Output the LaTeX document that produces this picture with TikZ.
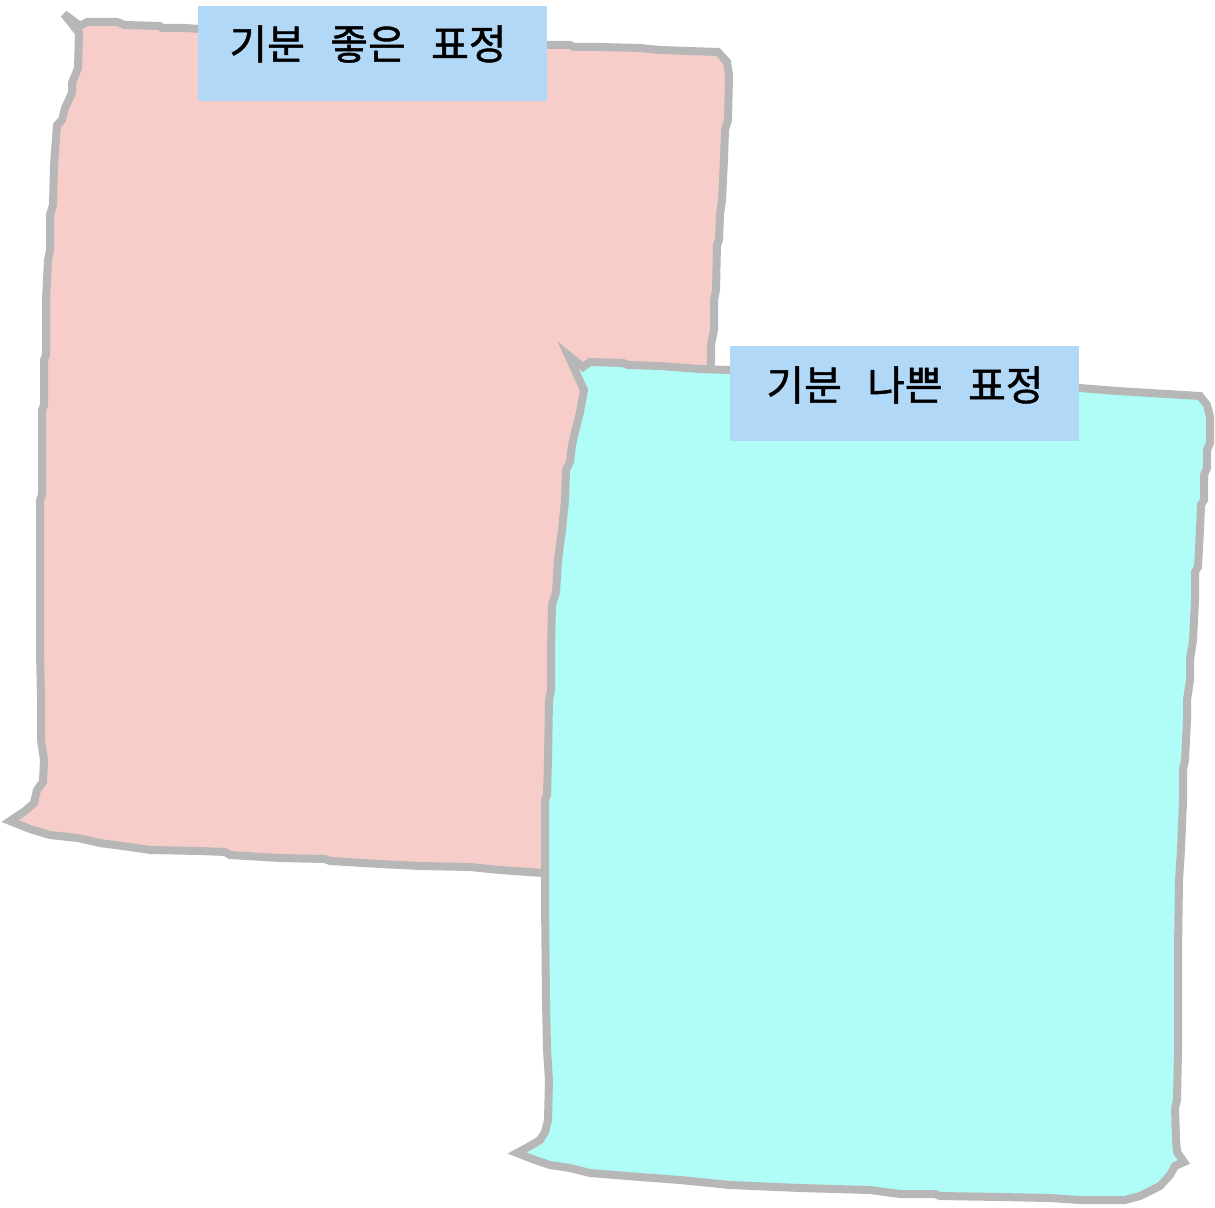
\documentclass[tikz,border=0pt]{standalone}
\usepackage{fontspec}
\newfontfamily\krfont[FakeBold=1.2]{Noto Sans CJK KR}
\definecolor{pinkfill}{HTML}{F7CDCA}
\definecolor{cyanfill}{HTML}{B0FCF6}
\definecolor{edgegray}{HTML}{B7B7B7}
\definecolor{labelblue}{HTML}{B2D8F7}
\begin{document}
\begin{tikzpicture}[x=1pt,y=-1pt,
  paper/.style={draw=edgegray,line width=8pt,line join=miter,miter limit=6},
  labelbox/.style={fill=labelblue,draw=none,minimum width=349pt,minimum height=95pt,inner sep=0pt,anchor=north west},
  labeltext/.style={font=\krfont\fontsize{41}{46}\selectfont,text=black,inner sep=0pt}]
\useasboundingbox (0,0) rectangle (1215,1207);
% pink sheet
\draw[paper,fill=pinkfill] (64,14) -- (80,26) -- (87,22) -- (117,22) -- (125,25) -- (160,26) -- (162,28) -- (185,28) -- (200,29)
  -- (300,35) -- (450,40) -- (548,45) -- (570,45) -- (574,47) -- (600,47) -- (640,48) -- (660,50) -- (718,52) -- (727,62) -- (729,75)
  -- (728,120) -- (725,130) -- (724,160) -- (722,200) -- (720,215) -- (719,240) -- (717,245) -- (716,290) -- (714,300) -- (714,330) -- (711,345) -- (711,360)
  -- (700,600) -- (600,875) -- (543,873) -- (500,870) -- (470,867) -- (420,866) -- (380,864)
  -- (330,861) -- (325,859) -- (280,858) -- (230,855) -- (225,852) -- (200,851) -- (150,850) -- (130,847) -- (100,843)
  -- (78,838) -- (50,835) -- (30,829) -- (10,821) -- (25,811) -- (34,803) -- (37,790) -- (43,782)
  -- (44,760) -- (41,740) -- (41,700) -- (40,650) -- (40,500) -- (42,495) -- (42,410) -- (44,405) -- (44,360) -- (46,355) -- (46,300)
  -- (48,260) -- (50,250) -- (50,215) -- (53,205) -- (54,165) -- (57,125) -- (62,120) -- (65,108) -- (72,93) -- (72,83) -- (78,68) -- (79,33) -- cycle;
\node[labelbox] (goodbox) at (198,6) {};
\node[labeltext] (goodtext) at (368,44) {기분\hspace{0.62em}좋은\hspace{0.62em}표정};
% cyan sheet
\draw[paper,fill=cyanfill] (568,355) -- (583,367) -- (590,362) -- (623,363) -- (628,365) -- (660,366) -- (700,369) -- (730,370)
  -- (900,380) -- (1080,388) -- (1117,391) -- (1200,396) -- (1207,405) -- (1210,417) -- (1210,443)
  -- (1207,450) -- (1207,468) -- (1204,475) -- (1204,500) -- (1201,505) -- (1200,530) -- (1198,567) -- (1195,572) -- (1195,600) -- (1193,640) -- (1190,660) -- (1190,680)
  -- (1187,700) -- (1187,720) -- (1185,760) -- (1183,770) -- (1183,800) -- (1181,850) -- (1179,880) -- (1178,950) -- (1178,1050)
  -- (1177,1100) -- (1175,1108) -- (1176,1140) -- (1177,1152) -- (1184,1162) -- (1175,1166) -- (1170,1175)
  -- (1160,1186) -- (1140,1196) -- (1125,1200) -- (1080,1200) -- (1050,1198) -- (1000,1197)
  -- (940,1196) -- (935,1194) -- (900,1194) -- (870,1190) -- (800,1188) -- (730,1185) -- (680,1180) -- (640,1177)
  -- (590,1173) -- (570,1168) -- (550,1165) -- (535,1160) -- (517,1153) -- (530,1146) -- (540,1140)
  -- (545,1132) -- (548,1120) -- (549,1080) -- (547,1050) -- (546,1000) -- (545,900) -- (545,800)
  -- (547,795) -- (548,760) -- (549,700) -- (551,690) -- (551,650) -- (552,605) -- (556,592) -- (558,560) -- (562,530)
  -- (565,500) -- (566,470) -- (570,462) -- (572,445) -- (575,432) -- (580,412) -- (584,390) -- cycle;
\node[labelbox] (badbox) at (730,346) {};
\node[labeltext] (badtext) at (905,385) {기분\hspace{0.62em}나쁜\hspace{0.62em}표정};
\end{tikzpicture}
\end{document}
